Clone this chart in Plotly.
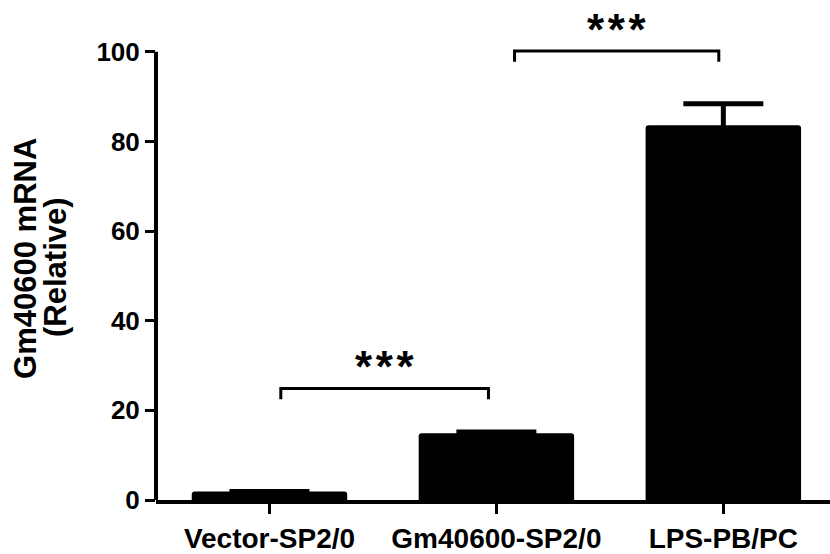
import plotly.graph_objects as go

categories = ["Vector-SP2/0", "Gm40600-SP2/0", "LPS-PB/PC"]
means = [1.9, 14.9, 83.6]
errors = [0.0, 0.3, 4.8]
y_ticks = [0, 20, 40, 60, 80, 100]
# significance comparisons: (left index, right index, bracket level, label)
comparisons = [(0, 1, 24.9, "***"), (1, 2, 100.2, "***")]

FONT = "Liberation Sans"
idx = list(range(len(categories)))

fig = go.Figure()
fig.add_trace(go.Bar(
    x=idx, y=means, width=0.685,
    marker=dict(color="black", line=dict(width=0), cornerradius=3),
    error_y=dict(type="data", array=errors, visible=True, color="black",
                 thickness=5, width=40),
    showlegend=False, hoverinfo="skip",
))

shapes = []
annotations = []
# manual y axis line (0..100)
shapes.append(dict(type="line", xref="paper", yref="y", x0=0, x1=0, y0=0, y1=100,
                   line=dict(color="black", width=4)))
for a, b, lvl, lab in comparisons:
    xl = a + 0.05 if a == 0 else a + 0.08
    xr = b - 0.035 if b == 1 else b - 0.02
    drop = 2.4
    shapes.append(dict(type="path", xref="x", yref="y",
                       path=f"M {xl},{lvl-drop} L {xl},{lvl} L {xr},{lvl} L {xr},{lvl-drop}",
                       line=dict(color="black", width=3)))
    annotations.append(dict(x=(xl + xr) / 2, y=lvl + 4.8, xref="x", yref="y",
                            text=lab.replace("*", "*\u200a").rstrip("\u200a"),
                            showarrow=False, xanchor="center", yanchor="middle",
                            font=dict(family=FONT, size=44, color="black", weight="bold")))

annotations.append(dict(x=26, y=53.8, xref="paper", yref="y", text="Gm40600 mRNA",
                        textangle=-90, showarrow=False, xanchor="center", yanchor="middle",
                        font=dict(family=FONT, size=31, color="black", weight="bold")))
annotations.append(dict(x=56, y=52.0, xref="paper", yref="y", text="(Relative)",
                        textangle=-90, showarrow=False, xanchor="center", yanchor="middle",
                        font=dict(family=FONT, size=31, color="black", weight="bold")))

L = 156
W = 830 - L
for an in annotations:
    if an["xref"] == "paper" and an.get("textangle") == -90:
        an["x"] = (an["x"] - L) / W

fig.update_layout(
    width=830, height=554,
    margin=dict(l=L, r=0, t=7, b=44),
    paper_bgcolor="white", plot_bgcolor="white",
    shapes=shapes, annotations=annotations,
    xaxis=dict(range=[-0.5, 2.47], tickvals=idx, ticktext=categories,
               showline=True, linecolor="black", linewidth=4,
               ticks="outside", ticklen=10, tickwidth=3, tickcolor="black",
               showgrid=False, zeroline=False,
               tickfont=dict(family=FONT, size=28, color="black", weight="bold")),
    yaxis=dict(range=[0, 110], tickvals=y_ticks,
               showline=False, ticks="outside", ticklen=10, tickwidth=3, tickcolor="black",
               showgrid=False, zeroline=False,
               tickfont=dict(family=FONT, size=26, color="black", weight="bold")),
)

fig.write_html("out.html", config={"displayModeBar": False},
               post_script="document.body.style.margin='0';document.body.style.padding='0';")
